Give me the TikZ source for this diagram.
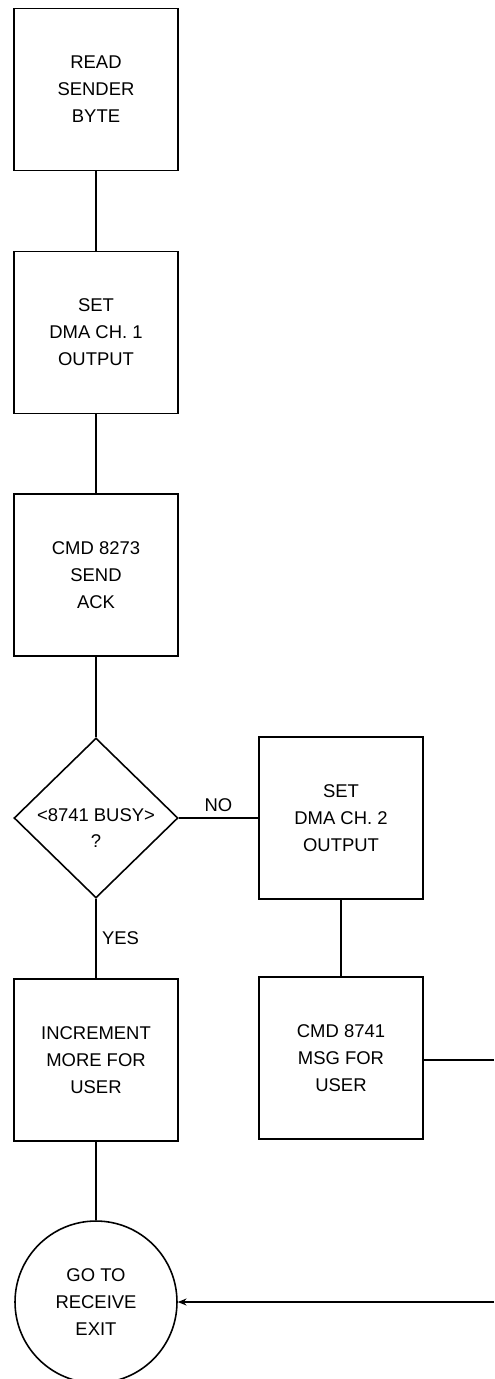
\documentclass[tikz,border=0pt]{standalone}
\usepackage{fontspec}
\setmainfont{Liberation Sans}
\usetikzlibrary{arrows.meta,positioning,shapes.geometric}
\newcommand{\flowfont}{\fontsize{10.5}{15.3}\selectfont}
\tikzset{
  procbox/.style={rectangle,draw,line width=0.9pt,minimum width=3.28cm,
    minimum height=3.24cm,align=center,inner sep=2pt,font=\flowfont},
  decision/.style={diamond,draw,line width=0.9pt,minimum width=3.28cm,
    minimum height=3.2cm,inner sep=0pt},
  exitnode/.style={circle,draw,line width=0.9pt,minimum size=3.24cm,
    align=center,inner sep=0pt,font=\flowfont},
  flowline/.style={line width=0.9pt},
  flowarrow/.style={flowline,-{Stealth[length=5pt,width=4pt]}},
  branchlbl/.style={font=\flowfont,inner sep=3pt},
}

\begin{document}
\begin{tikzpicture}[x=0.02cm,y=-0.02cm]
  \useasboundingbox (0,0) rectangle (494,1379);
  \node[procbox] (read) at (96,89.5) {READ\\SENDER\\BYTE};
  \node[procbox] (dma1) at (96,332.5) {SET\\DMA CH. 1\\OUTPUT};
  \node[procbox] (ack)  at (96,575) {CMD 8273\\SEND\\ACK};
  \node[decision,label={[font=\flowfont,align=center,yshift=-0.2cm]center:{<8741 BUSY>\\?}}]
    (busy) at (96,818) {};
  \node[procbox] (dma2) at (341,818) {SET\\DMA CH. 2\\OUTPUT};
  \node[procbox] (msg)  at (341,1058) {CMD 8741\\MSG FOR\\USER};
  \node[procbox] (incr) at (96,1060) {INCREMENT\\MORE FOR\\USER};
  \node[exitnode] (exit) at (96,1302) {GO TO\\RECEIVE\\EXIT};
  % loop back runs off the page edge
  \coordinate (gapTop) at (494,1060);
  \coordinate (gapBot) at (494,1302);

  \draw[flowline] (read) -- (dma1);
  \draw[flowline] (dma1) -- (ack);
  \draw[flowline] (ack) -- (busy);
  \draw[flowline] (busy) -- node[branchlbl,above]{NO} (dma2);
  \draw[flowline] (busy) -- node[branchlbl,right]{YES} (incr);
  \draw[flowline] (dma2) -- (msg);
  \draw[flowline] (incr) -- (exit);
  \draw[flowline] (msg.east |- gapTop) -- (gapTop);
  \draw[flowarrow] (gapBot) -- (exit.east);
\end{tikzpicture}
\end{document}
